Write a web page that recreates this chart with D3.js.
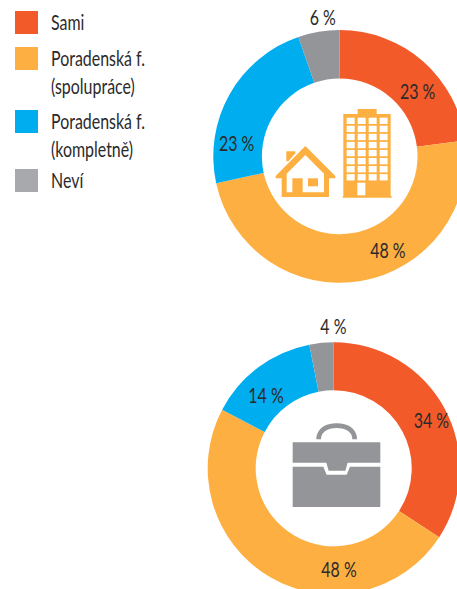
<!DOCTYPE html>
<html>
<head>
<meta charset="utf-8">
<script src="https://cdn.jsdelivr.net/npm/d3@7"></script>
<style>
html, body { margin: 0; padding: 0; background: #fff; overflow: hidden; }
text { font-family: Lato, "Liberation Sans", sans-serif; fill: #2b2a2b; }
</style>
</head>
<body>
<div id="chart"></div>
<script>
// legend
const categories = ['Sami', 'Poradenská f.|(spolupráce)', 'Poradenská f.|(kompletně)', 'Neví']
const sliceColors = ['#f25a2a', '#fdb041', '#00aeef', '#939598']
const legendColors = ['#f25a2a', '#fdb041', '#00aeef', '#a7a9ac']

// values, labels as printed
const homeValues = [23, 48.6, 23.1, 5.3]
const homeLabels = ['23 %', '48 %', '23 %', '6 %']
const workValues = [34.2, 48.5, 14.2, 3.1]
const workLabels = ['34 %', '48 %', '14 %', '4 %']

const width = 457
const height = 589
const squeeze = 0.76 // the original face is condensed, none is installed

const svg = d3.select('#chart').append('svg')
    .attr('width', width)
    .attr('height', height)
    .style('display', 'block')

const pie = d3.pie().sort(null).value(d => d)

function drawDonut(opts) {
    let { cx, cy, outer, inner, values, labels, nudges } = opts
    let arc = d3.arc().innerRadius(inner).outerRadius(outer)
    let g = svg.append('g').attr('transform', 'translate(' + cx + ',' + cy + ')')
    let arcs = pie(values)

    g.selectAll('path.slice')
        .data(arcs)
        .enter()
        .append('path')
        .attr('class', 'slice')
        .attr('d', arc)
        .attr('fill', (d, i) => sliceColors[i])

    // labels start at the slice centroid, then get pushed where the original has them
    g.selectAll('text.pct')
        .data(arcs)
        .enter()
        .append('text')
        .attr('class', 'pct')
        .attr('transform', (d, i) => {
            let p = arc.centroid(d)
            return 'translate(' + (p[0] + nudges[i][0]) + ',' + (p[1] + nudges[i][1]) + ') scale(' + squeeze + ',1)'
        })
        .attr('dy', '.36em')
        .attr('text-anchor', 'middle')
        .attr('font-size', 21)
        .text((d, i) => labels[i])
}

drawDonut({
    cx: 339.7, cy: 156.4, outer: 126.4, inner: 77.8,
    values: homeValues, labels: homeLabels,
    nudges: [[10.5, 12], [31, -7], [-14, 37], [0, -38.7]]
})
drawDonut({
    cx: 333.7, cy: 468.3, outer: 126, inner: 78,
    values: workValues, labels: workLabels,
    nudges: [[8, 1], [57, 13], [-6.7, 8.5], [9.6, -40]]
})

// legend rows
const legendTop = [11, 47, 110, 169]
const legend = svg.append('g')
categories.forEach((c, i) => {
    legend.append('rect')
        .attr('x', 15)
        .attr('y', legendTop[i])
        .attr('width', 23)
        .attr('height', 23)
        .attr('fill', legendColors[i])
    c.split('|').forEach((line, j) => {
        legend.append('text')
            .attr('transform', 'translate(51,' + (legendTop[i] + 19 + j * 28) + ') scale(' + squeeze + ',1)')
            .attr('font-size', 21)
            .text(line)
    })
})

// house + block of flats
const orange = '#fdb041'
const homeIcon = svg.append('g').attr('transform', 'translate(260,100) scale(0.3333)')
homeIcon.append('path').attr('fill', orange)
    .attr('d', 'M293 27H350V42H392V288H395V293H248V288H250V42H293Z')
d3.range(8).forEach(r => {
    d3.range(4).forEach(c => {
        homeIcon.append('rect')
            .attr('x', 260 + c * 33)
            .attr('y', 53 + r * 24.2)
            .attr('width', 24)
            .attr('height', 19)
            .attr('fill', '#fff')
    })
})
homeIcon.append('rect').attr('x', 292).attr('y', 248).attr('width', 24).attr('height', 38).attr('fill', '#fff')
homeIcon.append('path').attr('fill', orange)
    .attr('d', 'M136 138L226 228V235H207V291H65V235H47V228Z')
homeIcon.append('path').attr('fill', '#fff')
    .attr('d', 'M136 165L192 221V277H128V235H97V277H80V221Z')
homeIcon.append('rect').attr('x', 144).attr('y', 235).attr('width', 30).attr('height', 24).attr('fill', orange)
homeIcon.append('path').attr('fill', orange)
    .attr('d', 'M79 154H106V160L85 184H79Z')

// briefcase
const grey = '#939598'
const caseIcon = svg.append('g').attr('transform', 'translate(270,410) scale(0.3333)')
caseIcon.append('path').attr('fill', 'none').attr('stroke', grey).attr('stroke-width', 14)
    .attr('d', 'M146 88C146 60 170 47 200 47C230 47 254 60 254 88')
caseIcon.append('path').attr('fill', grey)
    .attr('d', 'M68 97H331V158H233L226 182H176L169 158H68Z')
caseIcon.append('path').attr('fill', grey)
    .attr('d', 'M68 170H160L170 194H230L240 170H331V291H68Z')
</script>
</body>
</html>
